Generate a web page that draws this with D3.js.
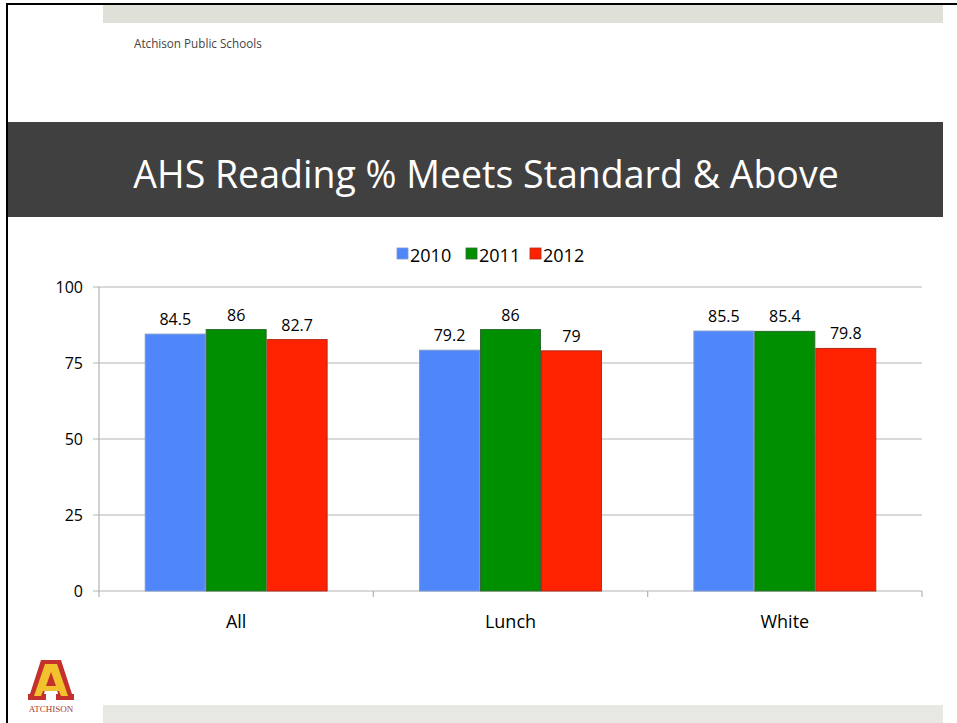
<!DOCTYPE html>
<html><head><meta charset="utf-8">
<script src="https://cdn.jsdelivr.net/npm/d3@7"></script>
<style>body{margin:0;background:#fff}svg{display:block}</style>
</head><body>
<script>
const categories = ["All", "Lunch", "White"];
const seriesNames = ["2010", "2011", "2012"];
const values2010 = [84.5, 79.2, 85.5];
const values2011 = [86, 86, 85.4];
const values2012 = [82.7, 79, 79.8];
const yTicks = [0, 25, 50, 75, 100];
const colors = ["#4f87fb", "#008f00", "#ff2200"];
const strokes = ["#7b98cc", "#2e6a2e", "#b02a18"];

const W = 957, H = 723;
const svg = d3.select("body").append("svg").attr("width", W).attr("height", H);
const FONT = "'Open Sans', 'Noto Sans', sans-serif";

// slide frame
svg.append("rect").attr("x", 103).attr("y", 5).attr("width", 840).attr("height", 18).attr("fill", "#dfe0d7");
svg.append("rect").attr("x", 103).attr("y", 705).attr("width", 840).attr("height", 18).attr("fill", "#e8e8e3");
svg.append("rect").attr("x", 6).attr("y", 3).attr("width", W - 6).attr("height", 2).attr("fill", "#000");
svg.append("rect").attr("x", 6).attr("y", 3).attr("width", 2).attr("height", H - 3).attr("fill", "#000");

svg.append("text").attr("x", 134).attr("y", 48).text("Atchison Public Schools")
  .attr("font-family", FONT).attr("font-size", 11.7).attr("fill", "#444");

svg.append("rect").attr("x", 8).attr("y", 122).attr("width", 935).attr("height", 95).attr("fill", "#404040");
svg.append("text").attr("x", 486).attr("y", 188).attr("text-anchor", "middle")
  .text("AHS Reading % Meets Standard & Above")
  .attr("font-family", FONT).attr("font-size", 37.5).attr("fill", "#fff");

// chart
const x0 = d3.scaleBand().domain(categories).range([99, 922]).paddingInner(0).paddingOuter(0);
const x1 = d3.scaleBand().domain(seriesNames).range([0, x0.bandwidth()]).paddingOuter(0.75).paddingInner(0);
const y = d3.scaleLinear().domain([0, 100]).range([591, 287]);

const g = svg.append("g");
g.selectAll("line.grid").data(yTicks).join("line")
  .attr("x1", 93).attr("x2", 922).attr("y1", d => y(d)).attr("y2", d => y(d))
  .attr("stroke", "#b3b3b3").attr("stroke-width", 1.2);
g.append("line").attr("x1", 99).attr("x2", 99).attr("y1", y(100)).attr("y2", y(0))
  .attr("stroke", "#b3b3b3").attr("stroke-width", 1.2);
const bounds = categories.map(c => x0(c)).concat([x0.range()[1]]);
g.selectAll("line.xt").data(bounds).join("line")
  .attr("x1", d => d).attr("x2", d => d).attr("y1", y(0)).attr("y2", y(0) + 6)
  .attr("stroke", "#b3b3b3").attr("stroke-width", 1.2);
g.selectAll("text.yl").data(yTicks).join("text")
  .attr("x", 83).attr("y", d => y(d) + 6).attr("text-anchor", "end").text(d => d)
  .attr("font-family", FONT).attr("font-size", 16).attr("fill", "#000");
g.selectAll("text.xl").data(categories).join("text")
  .attr("x", d => x0(d) + x0.bandwidth() / 2).attr("y", 628).attr("text-anchor", "middle").text(d => d)
  .attr("font-family", FONT).attr("font-size", 18).attr("fill", "#000");

const series = [values2010, values2011, values2012];
categories.forEach((c, i) => {
  seriesNames.forEach((s, j) => {
    const v = series[j][i];
    const bx = x0(c) + x1(s);
    g.append("rect").attr("x", bx + 0.5).attr("y", y(v)).attr("width", x1.bandwidth() - 1).attr("height", y(0) - y(v))
      .attr("fill", colors[j]).attr("stroke", strokes[j]).attr("stroke-width", 1);
    g.append("text").attr("x", bx + x1.bandwidth() / 2).attr("y", y(v) - 9).attr("text-anchor", "middle")
      .text(v).attr("font-family", FONT).attr("font-size", 16).attr("fill", "#000");
  });
});

// legend
const legX = [397, 466, 530];
seriesNames.forEach((s, j) => {
  svg.append("rect").attr("x", legX[j]).attr("y", 248).attr("width", 11).attr("height", 11)
    .attr("fill", colors[j]).attr("stroke", strokes[j]).attr("stroke-width", 0.8);
  svg.append("text").attr("x", legX[j] + 13).attr("y", 262).text(s)
    .attr("font-family", FONT).attr("font-size", 18).attr("fill", "#000");
});

// logo
const logo = svg.append("g").attr("transform", "translate(28,660)");
logo.append("path").attr("d", "M13,0 L33,0 L44,34 L46,34 L46,40 L28,40 L28,34 L30,34 L29,30 L17,30 L16,34 L18,34 L18,40 L0,40 L0,34 L2,34 Z")
  .attr("fill", "#c4302b");
logo.append("path").attr("d", "M17,4 L29,4 L40,36 L33,36 L31,31 L15,31 L13,36 L6,36 Z M18,26 L28,26 L23,12 Z")
  .attr("fill", "#f2c22e").attr("fill-rule", "evenodd");
logo.append("text").attr("x", 23).attr("y", 52).attr("text-anchor", "middle").text("ATCHISON")
  .attr("font-family", "'Liberation Serif', serif").attr("font-size", 9).attr("fill", "#a33a30");
</script>
</body></html>
